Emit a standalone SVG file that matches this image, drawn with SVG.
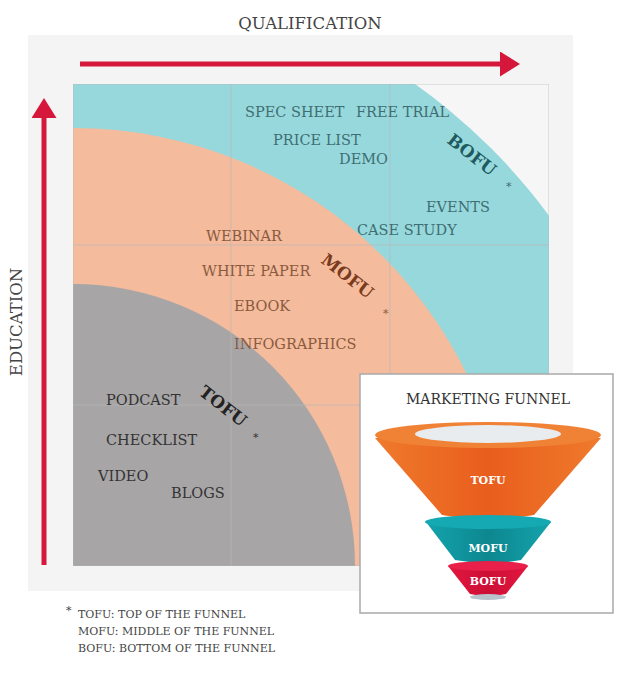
<svg xmlns="http://www.w3.org/2000/svg" width="625" height="694" viewBox="0 0 625 694">
<defs>
<style>
.t{font-family:"DejaVu Serif","Liberation Serif",serif;font-size:14.5px;fill:#555;}
.tag{font-family:"DejaVu Serif","Liberation Serif",serif;font-weight:bold;font-size:17px;}
.f{font-family:"DejaVu Serif","Liberation Serif",serif;font-weight:bold;font-size:11px;fill:#fff;text-anchor:middle;}
.g{stroke:#b8b8b8;stroke-width:1;fill:none;opacity:0.7}
</style>
<linearGradient id="og" x1="0" x2="1"><stop offset="0" stop-color="#ef7a2c"/><stop offset="0.5" stop-color="#e95e1d"/><stop offset="1" stop-color="#ef7a2c"/></linearGradient>
<linearGradient id="tg" x1="0" x2="1"><stop offset="0" stop-color="#14a3ac"/><stop offset="0.5" stop-color="#0d8790"/><stop offset="1" stop-color="#14a3ac"/></linearGradient>
<linearGradient id="rg" x1="0" x2="1"><stop offset="0" stop-color="#e3173f"/><stop offset="0.5" stop-color="#cc0f36"/><stop offset="1" stop-color="#e3173f"/></linearGradient>
<clipPath id="c"><rect x="73" y="84" width="476" height="482"/></clipPath>
<marker id="ah" markerWidth="5" markerHeight="5" refX="2" refY="2.5" orient="auto" markerUnits="strokeWidth"><path d="M0,0 L4,2.5 L0,5 z" fill="#d6173c"/></marker>
</defs>
<rect width="625" height="694" fill="#fff"/>
<rect x="28" y="35" width="545" height="556" fill="#f4f4f4"/>
<g id="chart" clip-path="url(#c)">
<rect x="73" y="84" width="476" height="482" fill="#f6f6f6"/>
<circle cx="73" cy="566" r="591" fill="#97d8dc"/>
<circle cx="73" cy="566" r="438" fill="#f4bb9c"/>
<circle cx="73" cy="566" r="282" fill="#a7a5a6"/>
<path class="g" d="M231,84V566M390,84V566M73,245H549M73,405H549M73,84H549V566H73Z"/>
</g>
<g id="axes">
<line x1="80" y1="64" x2="510" y2="64" stroke="#d6173c" stroke-width="5" marker-end="url(#ah)"/>
<line x1="44" y1="565" x2="44" y2="108" stroke="#d6173c" stroke-width="5" marker-end="url(#ah)"/>
<text x="310" y="29" text-anchor="middle" class="t" style="font-size:16.5px;fill:#444">QUALIFICATION</text>
<text transform="translate(22,322) rotate(-90)" text-anchor="middle" class="t" style="font-size:16.5px;fill:#444">EDUCATION</text>
</g>
<g id="bofu" class="t" style="fill:#3f6e72">
<text x="245" y="117">SPEC SHEET</text><text x="356" y="117">FREE TRIAL</text>
<text x="273" y="145">PRICE LIST</text><text x="339" y="164">DEMO</text>
<text x="426" y="212">EVENTS</text><text x="357" y="235">CASE STUDY</text>
<text transform="translate(446,142) rotate(38)" class="tag" style="fill:#1f5a5e">BOFU</text>
<text x="506" y="190" style="font-size:11px">*</text>
</g>
<g id="mofu" class="t" style="fill:#8a5a3f">
<text x="206" y="241">WEBINAR</text><text x="202" y="276">WHITE PAPER</text>
<text x="234" y="311">EBOOK</text><text x="234" y="349">INFOGRAPHICS</text>
<text transform="translate(320,262) rotate(38)" class="tag" style="fill:#7a3a1c">MOFU</text>
<text x="383" y="317" style="font-size:11px">*</text>
</g>
<g id="tofu" class="t" style="fill:#333">
<text x="106" y="405">PODCAST</text><text x="106" y="445">CHECKLIST</text>
<text x="98" y="481">VIDEO</text><text x="171" y="498">BLOGS</text>
<text transform="translate(198,394) rotate(38)" class="tag" style="fill:#222">TOFU</text>
<text x="253" y="441" style="font-size:11px">*</text>
</g>
<g id="inset">
<rect x="360" y="374" width="253" height="239" fill="#fff" stroke="#a9a9a9" stroke-width="1.5"/>
<text x="488" y="404" text-anchor="middle" class="t" style="font-size:14px;fill:#333">MARKETING FUNNEL</text>
<path d="M375,438 L442,515 Q488,523 534,515 L601,438 Z" fill="url(#og)"/>
<ellipse cx="488" cy="435" rx="113" ry="13" fill="#f08236"/>
<ellipse cx="488" cy="434" rx="73" ry="9" fill="#e8ecef"/>
<text x="488" y="484" class="f">TOFU</text>
<path d="M426,522 L455,560 Q488,566 521,560 L551,522 Z" fill="url(#tg)"/>
<ellipse cx="488" cy="522" rx="63" ry="7" fill="#15aab3"/>
<text x="488" y="552" class="f">MOFU</text>
<path d="M448,566 L470,594 Q488,598 506,594 L528,566 Z" fill="url(#rg)"/>
<ellipse cx="488" cy="566" rx="40" ry="5" fill="#e8204a"/>
<ellipse cx="488" cy="597" rx="18" ry="3" fill="#b8c3cc"/>
<text x="488" y="585" class="f">BOFU</text>
</g>
<g id="notes" class="t" style="font-size:11px;fill:#444">
<text x="66" y="614">*</text>
<text x="78" y="618">TOFU: TOP OF THE FUNNEL</text>
<text x="78" y="635">MOFU: MIDDLE OF THE FUNNEL</text>
<text x="78" y="652">BOFU: BOTTOM OF THE FUNNEL</text>
</g>
</svg>
